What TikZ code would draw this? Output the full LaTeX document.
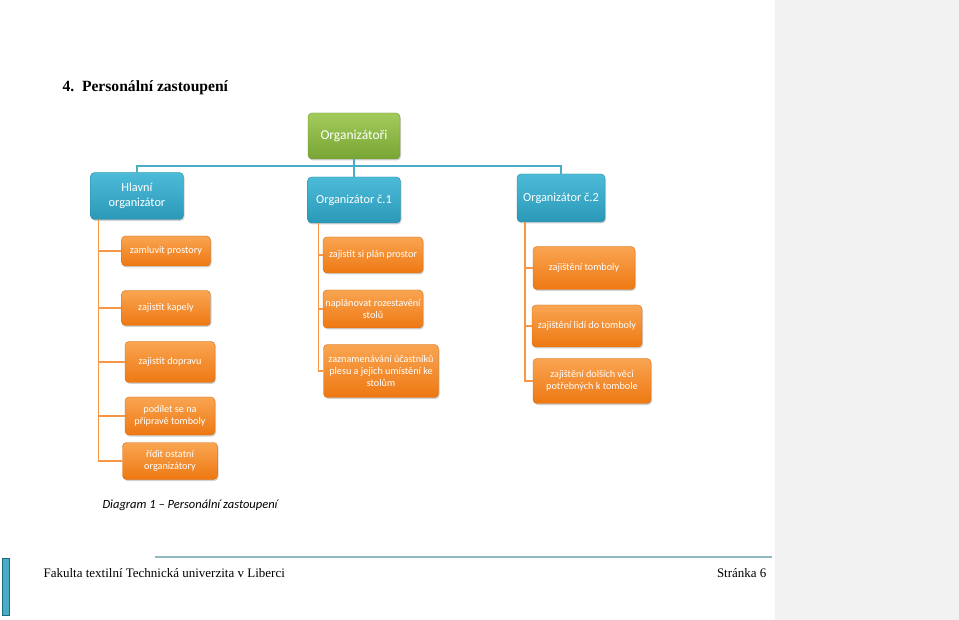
\documentclass[tikz,border=0pt]{standalone}
\usepackage{fontspec}
\setmainfont{Liberation Serif}
\newfontfamily\carl{Carlito}
\usetikzlibrary{shadows}
\definecolor{orgA}{HTML}{F9A552}
\definecolor{orgB}{HTML}{EE7812}
\definecolor{orgL}{HTML}{F79646}
\definecolor{bluA}{HTML}{4CBBD8}
\definecolor{bluB}{HTML}{2B98B8}
\definecolor{bluL}{HTML}{4BACC6}
\definecolor{grnA}{HTML}{A2CB5C}
\definecolor{grnB}{HTML}{78A534}
\definecolor{panel}{HTML}{F2F2F2}
\definecolor{footl}{HTML}{93B7C1}
\tikzset{
  basebox/.style={rounded corners=4pt, align=center, text=white, inner sep=1pt,
    drop shadow={shadow xshift=1pt, shadow yshift=-1.5pt, opacity=0.35}},
  obox/.style={basebox, top color=orgA, bottom color=orgB, draw=orgB!90!black,
    font=\carl\fontsize{10.2}{11.6}\selectfont},
  bbox/.style={basebox, top color=bluA, bottom color=bluB, draw=bluB!90!black,
    font=\carl\fontsize{12.3}{14.5}\selectfont},
  gbox/.style={basebox, top color=grnA, bottom color=grnB, draw=grnB!90!black,
    font=\carl\fontsize{13.5}{15}\selectfont},
  oline/.style={draw=orgL, line width=1.6pt},
  bline/.style={draw=bluL, line width=1.6pt},
}
\begin{document}
\begin{tikzpicture}[x=1pt,y=-1pt]
\useasboundingbox (0,0) rectangle (959,620);
\fill[white] (0,0) rectangle (959,620);
\fill[panel] (775,0) rectangle (959,620);

\node[anchor=west, font=\bfseries\fontsize{15.6}{17}\selectfont] (title) at (59,88) {4.\enspace Personální zastoupení};

% top level
\node[gbox, minimum width=92pt, minimum height=46pt] (org) at (354,136) {Organizátoři};
\node[bbox, minimum width=93pt, minimum height=47pt] (hl) at (137,196) {Hlavní\\organizátor};
\node[bbox, minimum width=93pt, minimum height=46pt] (m1) at (354,200) {Organizátor č.1};
\node[bbox, minimum width=88pt, minimum height=48pt] (m2) at (561,198) {Organizátor č.2};

\coordinate (bus) at (354,166);

% left column
\node[obox, minimum width=89pt, minimum height=30pt] (a1) at (166,251) {zamluvit prostory};
\node[obox, minimum width=89pt, minimum height=35pt] (a2) at (166,308) {zajistit kapely};
\node[obox, minimum width=90pt, minimum height=41pt] (a3) at (170,362) {zajistit dopravu};
\node[obox, minimum width=90pt, minimum height=38pt] (a4) at (170,416) {podílet se na\\přípravě tomboly};
\node[obox, minimum width=95pt, minimum height=37pt] (a5) at (170,461) {řídit ostatní\\organizátory};

% middle column
\node[obox, minimum width=100pt, minimum height=36pt] (b1) at (373,255) {zajistit si plán prostor};
\node[obox, minimum width=100pt, minimum height=38pt] (b2) at (373,309) {naplánovat rozestavění\\stolů};
\node[obox, minimum width=115pt, minimum height=53pt] (b3) at (381,371) {zaznamenávání účastníků\\plesu a jejich umístění ke\\stolům};

% right column
\node[obox, minimum width=102pt, minimum height=43pt] (c1) at (584,268) {zajištění tomboly};
\node[obox, minimum width=110pt, minimum height=42pt] (c2) at (587,326) {zajištění lidí do tomboly};
\node[obox, minimum width=118pt, minimum height=45pt] (c3) at (592,381) {zajištění dolších věci\\potřebných k tombole};

% connectors
\path[bline] (org.south) -- (bus);
\path[bline] (hl.north) |- (bus);
\path[bline] (m2.north) |- (bus);
\path[bline] (bus) -- (m1.north);

\path[oline] (hl.south west) ++(8,0) |- (a1.west);
\path[oline] (hl.south west) ++(8,0) |- (a2.west);
\path[oline] (hl.south west) ++(8,0) |- (a3.west);
\path[oline] (hl.south west) ++(8,0) |- (a4.west);
\path[oline] (hl.south west) ++(8,0) |- (a5.west);

\path[oline] (m1.south west) ++(11,0) |- (b1.west);
\path[oline] (m1.south west) ++(11,0) |- (b2.west);
\path[oline] (m1.south west) ++(11,0) |- (b3.west);

\path[oline] (m2.south west) ++(8,0) |- (c1.west);
\path[oline] (m2.south west) ++(8,0) |- (c2.west);
\path[oline] (m2.south west) ++(8,0) |- (c3.west);

% caption
\node[anchor=west, font=\carl\itshape\fontsize{12.5}{14}\selectfont] (cap) at (99,505) {Diagram 1 – Personální zastoupení};

% footer
\coordinate (fl1) at (155,557);
\coordinate (fl2) at (772,557);
\draw[footl, line width=1.5pt] (fl1) -- (fl2);
\draw[fill=bluL, draw=bluB!70!black, line width=0.6pt] (2,558) rectangle (9,615);
\node[anchor=west, font=\fontsize{13}{15}\selectfont] (fak) at (40,573) {Fakulta textilní Technická univerzita v Liberci};
\node[anchor=east, font=\fontsize{13}{15}\selectfont] (str) at (770,573) {Stránka 6};
\end{tikzpicture}
\end{document}
